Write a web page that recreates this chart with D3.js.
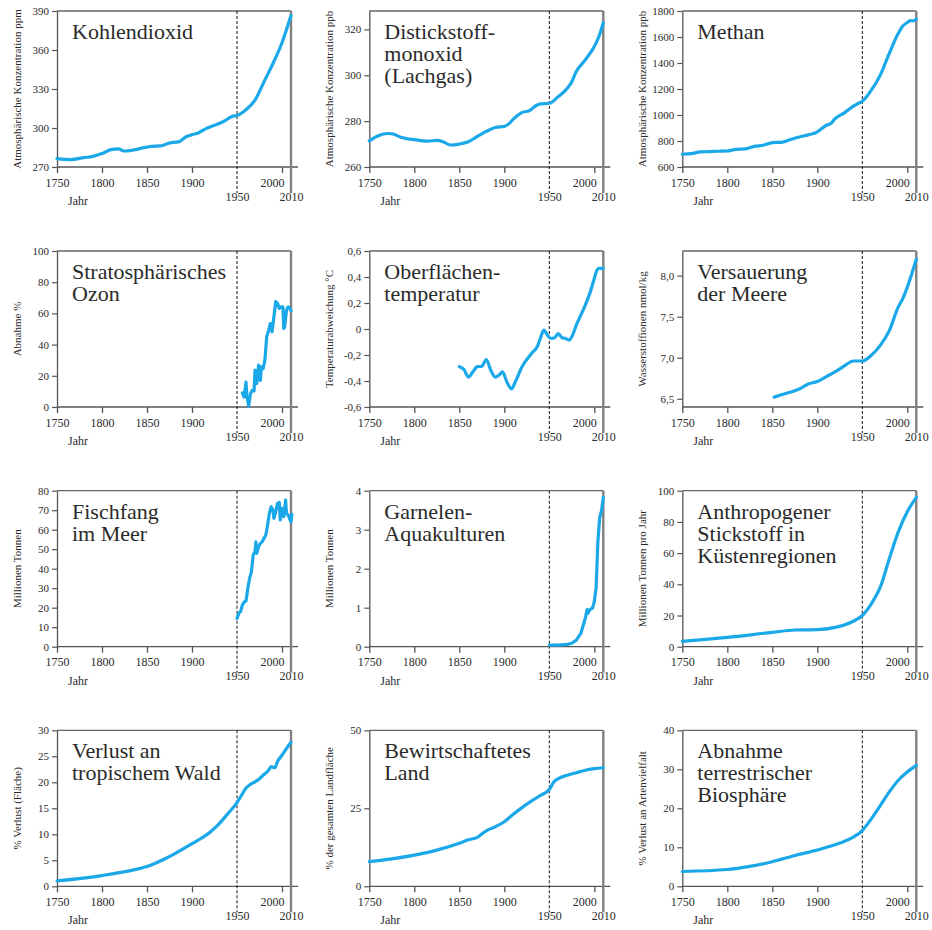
<!DOCTYPE html>
<html><head><meta charset="utf-8">
<script src="https://cdn.jsdelivr.net/npm/d3@7"></script>
<style>
body{margin:0;background:#fff}
svg{display:block}
text{font-family:"Liberation Serif","DejaVu Serif",serif;fill:#2a2a2a}
</style>
</head><body>
<svg id="c" width="932" height="930"></svg>
<script>
// ---------- data ----------
const xTicksUpper = [1750, 1800, 1850, 1900, 2000];
const xTicksLower = [1950, 2010];

const co2Years  = [1750,1765,1780,1790,1800,1810,1818,1825,1835,1845,1855,1865,1875,1885,1893,1900,1907,1915,1925,1935,1945,1950,1960,1970,1980,1990,2000,2010];
const co2Values = [276.4,275.7,277.2,278.2,280.3,283.4,283.9,282.3,283.1,284.6,285.9,286.2,288.5,289.3,293.1,294.9,296.2,299.3,302.1,305,309,309.6,314,321.4,335.5,349.7,365.6,386.5];
const co2Ticks  = [270,300,330,360,390];

const n2oYears  = [1750,1760,1770,1775,1785,1800,1815,1825,1832,1840,1850,1860,1870,1880,1890,1900,1905,1910,1920,1928,1935,1940,1950,1960,1970,1975,1980,1990,2000,2005,2010];
const n2oValues = [271.4,273.6,274.6,274.5,273,271.9,271.3,271.6,271,269.6,270,271,273.3,275.5,277.2,277.7,278.8,280.9,283.8,284.6,286.7,287.5,287.8,290.7,294.3,297.2,301.6,306.7,312.5,316.8,322.9];
const n2oTicks  = [260,280,300,320];

const ch4Years  = [1750,1760,1770,1780,1790,1800,1810,1820,1830,1840,1850,1860,1870,1880,1890,1900,1905,1910,1915,1920,1930,1940,1945,1950,1960,1970,1980,1990,1995,2000,2003,2007,2010];
const ch4Values = [698,703,716,718,721,723,736,739,759,767,788,790,811,831,847,870,896,921,934,973,1016,1068,1088,1106,1191,1307,1474,1628,1685,1711,1726,1724,1739];
const ch4Ticks  = [600,800,1000,1200,1400,1600,1800];

const ozoneYears  = [1956,1958,1960,1961,1963,1965,1967,1969,1970,1972,1974,1976,1977,1979,1981,1983,1985,1987,1989,1991,1993,1995,1997,1999,2001,2002,2003,2005,2007,2009,2010];
const ozoneValues = [9,6.4,16,6.9,0.6,8.6,10.7,10.3,23.6,15,26.8,17,25.7,24.6,30,45,48.8,53.5,48.2,57.8,67.5,66.4,63.2,64.2,64.2,50.3,51.4,62.1,64.2,63.2,61.7];
const ozoneTicks  = [0,20,40,60,80,100];

const tempYears  = [1850,1855,1860,1865,1870,1875,1880,1885,1890,1895,1898,1903,1908,1912,1920,1930,1937,1940,1944,1948,1952,1956,1960,1964,1968,1972,1975,1980,1985,1990,1995,2000,2003,2005,2010];
const tempValues = [-0.29,-0.31,-0.37,-0.33,-0.29,-0.287,-0.235,-0.318,-0.37,-0.35,-0.33,-0.41,-0.46,-0.41,-0.287,-0.19,-0.13,-0.073,-0.009,-0.048,-0.073,-0.066,-0.035,-0.066,-0.073,-0.086,-0.06,0.03,0.107,0.184,0.274,0.389,0.454,0.467,0.467];
const tempTicks  = [-0.6,-0.4,-0.2,0,0.2,0.4,0.6];

const acidYears  = [1852,1860,1870,1880,1890,1900,1910,1920,1930,1940,1945,1950,1960,1970,1980,1990,1995,2000,2010];
const acidValues = [6.52,6.55,6.58,6.62,6.68,6.71,6.77,6.83,6.9,6.96,6.96,6.96,7.03,7.15,7.33,7.62,7.72,7.86,8.2];
const acidTicks  = [6.5,7.0,7.5,8.0];

const fishYears  = [1950,1952,1954,1956,1958,1960,1962,1964,1966,1968,1970,1971,1972,1974,1976,1978,1980,1982,1984,1986,1988,1990,1991,1993,1995,1997,1998,2000,2002,2004,2005,2007,2009,2010,2011];
const fishValues = [14.5,17.1,18,21.4,23,23.4,30,35,38.5,47,48.7,53.8,47.9,51.3,53,53.8,55.6,57.3,62.4,68.4,71.8,70,65.8,69.2,73.5,74,65,71,66.7,75.2,68.4,67.5,65,64.1,67.9];
const fishTicks  = [0,10,20,30,40,50,60,70,80];

const shrimpYears  = [1950,1960,1970,1975,1980,1985,1990,1992,1993,1995,1998,2000,2002,2004,2006,2008,2010];
const shrimpValues = [0.04,0.04,0.06,0.09,0.17,0.34,0.73,0.95,0.86,0.95,0.99,1.16,1.5,2.71,3.31,3.48,3.83];
const shrimpTicks  = [0,1,2,3,4];

const nitroYears  = [1750,1800,1850,1875,1900,1920,1930,1940,1950,1960,1970,1980,1990,2000,2010];
const nitroValues = [3.4,6,9.2,10.7,10.9,12.4,13.9,16.3,20,27.5,38.2,56.4,73.6,86.5,95.7];
const nitroTicks  = [0,20,40,60,80,100];

const forestYears  = [1750,1800,1830,1850,1870,1880,1900,1920,1930,1940,1950,1955,1960,1965,1970,1975,1980,1985,1988,1992,1995,2000,2005,2010];
const forestValues = [1.03,2.06,2.96,3.8,5.3,6.2,8.2,10.4,12,14,16.1,17.5,18.9,19.6,20.1,20.7,21.5,22.3,23,22.8,24,25.2,26.5,27.7];
const forestTicks  = [0,5,10,15,20,25,30];

const landYears  = [1750,1775,1800,1825,1850,1860,1870,1880,1890,1900,1910,1920,1930,1940,1950,1955,1960,1970,1980,1990,2000,2010];
const landValues = [7.9,8.8,10,11.6,13.8,14.9,15.7,17.8,19.1,20.7,23.1,25.3,27.3,29.1,31,33.4,34.5,35.6,36.4,37.2,37.7,38];
const landTicks  = [0,25,50];

const bioYears  = [1750,1800,1825,1850,1875,1900,1925,1940,1950,1960,1970,1980,1990,2000,2010];
const bioValues = [3.8,4.3,5.1,6.3,7.9,9.3,11.1,12.6,14.3,17.3,20.7,24.2,27.2,29.3,31];
const bioTicks  = [0,10,20,30,40];

const titles = [
  ["Kohlendioxid"],
  ["Distickstoff-","monoxid","(Lachgas)"],
  ["Methan"],
  ["Stratosphärisches","Ozon"],
  ["Oberflächen-","temperatur"],
  ["Versauerung","der Meere"],
  ["Fischfang","im Meer"],
  ["Garnelen-","Aquakulturen"],
  ["Anthropogener","Stickstoff in","Küstenregionen"],
  ["Verlust an","tropischem Wald"],
  ["Bewirtschaftetes","Land"],
  ["Abnahme","terrestrischer","Biosphäre"]
];
const yLabels = [
  "Atmosphärische Konzentration ppm",
  "Atmosphärische Konzentration ppb",
  "Atmosphärische Konzentration ppb",
  "Abnahme %",
  "Temperaturabweichung °C",
  "Wasserstoffionen nmol/kg",
  "Millionen Tonnen",
  "Millionen Tonnen",
  "Millionen Tonnen pro Jahr",
  "% Verlust (Fläche)",
  "% der gesamten Landfläche",
  "% Verlust an Artenvielfalt"
];

// ---------- layout ----------
const colX = [57, 369.3, 682.3];
const rowY = [11, 251, 490.7, 730.3];
const W = 234, H = 156;
const blue = "#1aa8e8";

const commaFmt = d => String(d).replace(".", ",");
const oneDec = d => d.toFixed(1).replace(".", ",");

const panels = [
  {years: co2Years, values: co2Values, ticks: co2Ticks, domain: [270,390], fmt: commaFmt, jag: false},
  {years: n2oYears, values: n2oValues, ticks: n2oTicks, domain: [260,328], fmt: commaFmt, jag: false},
  {years: ch4Years, values: ch4Values, ticks: ch4Ticks, domain: [600,1800], fmt: commaFmt, jag: false},
  {years: ozoneYears, values: ozoneValues, ticks: ozoneTicks, domain: [0,100], fmt: commaFmt, jag: true},
  {years: tempYears, values: tempValues, ticks: tempTicks, domain: [-0.6,0.6], fmt: d => d === 0 ? "0" : oneDec(d), jag: false},
  {years: acidYears, values: acidValues, ticks: acidTicks, domain: [6.4,8.3], fmt: oneDec, jag: false},
  {years: fishYears, values: fishValues, ticks: fishTicks, domain: [0,80], fmt: commaFmt, jag: true},
  {years: shrimpYears, values: shrimpValues, ticks: shrimpTicks, domain: [0,4], fmt: commaFmt, jag: true},
  {years: nitroYears, values: nitroValues, ticks: nitroTicks, domain: [0,100], fmt: commaFmt, jag: false},
  {years: forestYears, values: forestValues, ticks: forestTicks, domain: [0,30], fmt: commaFmt, jag: false},
  {years: landYears, values: landValues, ticks: landTicks, domain: [0,50], fmt: commaFmt, jag: false},
  {years: bioYears, values: bioValues, ticks: bioTicks, domain: [0,40], fmt: commaFmt, jag: false}
];

const svg = d3.select("#c");

panels.forEach((p, i) => {
  const gx = colX[i % 3], gy = rowY[Math.floor(i / 3)];
  const g = svg.append("g").attr("transform", `translate(${gx},${gy})`);
  const x = d3.scaleLinear().domain([1750, 2010]).range([0, W]);
  const y = d3.scaleLinear().domain(p.domain).range([H, 0]);

  // top border
  g.append("line").attr("x1", 0).attr("x2", x(2010)).attr("y1", 0).attr("y2", 0)
    .attr("stroke", "#666").attr("stroke-width", 1.3);

  // bottom axis line (extends past 2010)
  g.append("line").attr("x1", 0).attr("x2", x(2010) + 7).attr("y1", H).attr("y2", H)
    .attr("stroke", "#555").attr("stroke-width", 1.3);

  // upper x ticks
  const ax1 = g.append("g").attr("transform", `translate(0,${H})`)
    .call(d3.axisBottom(x).tickValues(xTicksUpper).tickSize(6).tickSizeOuter(0).tickPadding(5).tickFormat(d3.format("d")));
  ax1.select(".domain").remove();
  ax1.selectAll("line").attr("stroke", "#555").attr("stroke-width", 1.3);
  ax1.selectAll("text").attr("font-size", 12).attr("fill", "#2a2a2a").attr("font-family", "Liberation Serif")
    .attr("dx", d => d === 2000 ? -10 : 0);

  // lower x labels
  const ax2 = g.append("g").attr("transform", `translate(0,${H})`)
    .call(d3.axisBottom(x).tickValues(xTicksLower).tickSize(0).tickPadding(25).tickFormat(d3.format("d")));
  ax2.select(".domain").remove();
  ax2.selectAll("text").attr("font-size", 12).attr("fill", "#2a2a2a").attr("font-family", "Liberation Serif");

  // "Jahr"
  g.append("text").attr("x", 11).attr("y", H + 38).attr("font-size", 12).text("Jahr");

  // left axis
  const ay = g.append("g")
    .call(d3.axisLeft(y).tickValues(p.ticks).tickSize(5).tickSizeOuter(0).tickPadding(3).tickFormat(p.fmt));
  ay.select(".domain").attr("stroke", "#555").attr("stroke-width", 1.3);
  ay.selectAll("line").attr("stroke", "#555").attr("stroke-width", 1.2);
  ay.selectAll("text").attr("font-size", 11).attr("fill", "#2a2a2a").attr("font-family", "Liberation Serif");

  // 1950 dashed line
  g.append("line").attr("x1", x(1950)).attr("x2", x(1950)).attr("y1", 0).attr("y2", H + 26)
    .attr("stroke", "#111").attr("stroke-width", 1).attr("stroke-dasharray", "3,2");

  // 2010 gray bar
  g.append("line").attr("x1", x(2010)).attr("x2", x(2010)).attr("y1", 0).attr("y2", H + 26)
    .attr("stroke", "#808080").attr("stroke-width", 2.4);

  // y label
  g.append("text").attr("transform", `translate(-36,${H / 2}) rotate(-90)`)
    .attr("text-anchor", "middle").attr("font-size", 11).attr("fill", "#333")
    .text(yLabels[i]);

  // title
  const t = g.append("text").attr("x", 15).attr("y", 28).attr("font-size", 22).attr("fill", "#222");
  titles[i].forEach((line, k) => {
    t.append("tspan").attr("x", 15).attr("y", 28 + k * 22).text(line);
  });

  // data line
  const pts = p.years.map((yr, k) => [yr, p.values[k]]);
  const line = d3.line().x(d => x(d[0])).y(d => y(d[1]))
    .curve(p.jag ? d3.curveLinear : d3.curveMonotoneX);
  g.append("path").datum(pts).attr("d", line).attr("fill", "none")
    .attr("stroke", blue).attr("stroke-width", 3.2)
    .attr("stroke-linejoin", "round").attr("stroke-linecap", "round");
});
</script>
</body></html>
